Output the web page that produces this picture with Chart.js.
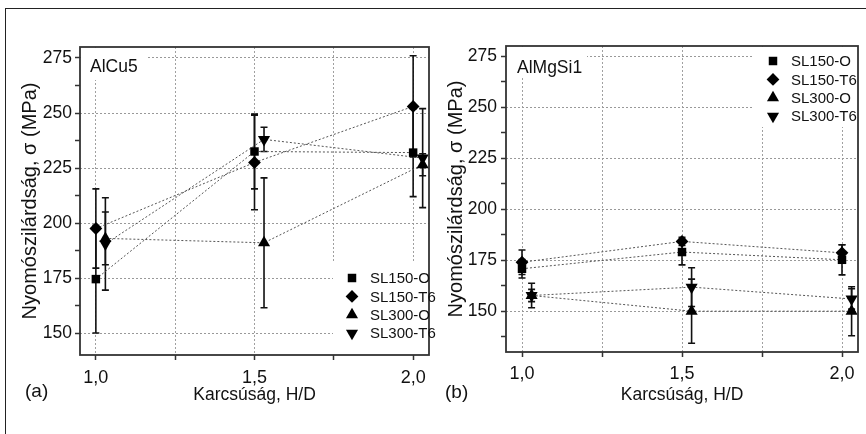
<!DOCTYPE html>
<html>
<head>
<meta charset="utf-8">
<script src="https://cdn.jsdelivr.net/npm/chart.js"></script>
<style>
  html, body { margin: 0; padding: 0; background: #fff; overflow: hidden; }
  #wrap { position: relative; width: 866px; height: 434px; overflow: hidden; }
  #frame { position: absolute; left: 5px; top: 8px; width: 900px; height: 500px; border: 1.5px solid #222; }
  #cu { position: absolute; left: 0; top: 0; }
  #mg { position: absolute; left: 436px; top: 0; }
</style>
</head>
<body>
<div id="wrap">
  <div id="frame"></div>
  <canvas id="cu" width="436" height="434"></canvas>
  <canvas id="mg" width="430" height="434"></canvas>
</div>
<script>
// x positions (H/D); the SL300 series are plotted slightly shifted right
const hdMain = [1.0, 1.5, 2.0];
const hdShift = [1.03, 1.53, 2.03];
const seriesNames = ['SL150-O', 'SL150-T6', 'SL300-O', 'SL300-T6'];

const xTickValues = [1.0, 1.25, 1.5, 1.75, 2.0];
const xTickLabels = ['1,0', '', '1,5', '', '2,0'];
const yTickValues = [137.5, 150, 162.5, 175, 187.5, 200, 212.5, 225, 237.5, 250, 262.5, 275];
const yTickLabels = ['', '150', '', '175', '', '200', '', '225', '', '250', '', '275'];

// (a) AlCu5 - compressive strength, MPa
const cuSL150O = [174.5, 232.5, 232];
const cuSL150T6 = [197.5, 227.5, 253];
const cuSL300O = [193, 191, 226.5];
const cuSL300T6 = [190.5, 238, 229.5];
const cuSL150OErr = [24.5, 17, 20];
const cuSL150T6Err = [18, 21.5, 23];
const cuSL300OErr = [12, 29.5, 5];
const cuSL300T6Err = [21, 5.5, 22.5];

// (b) AlMgSi1
const mgSL150O = [170.8, 179, 175.2];
const mgSL150T6 = [174, 184.2, 178.6];
const mgSL300O = [157.7, 150, 150];
const mgSL300T6 = [157.7, 161.8, 156];
const mgSL150OErr = [4.5, 6.3, 7.4];
const mgSL150T6Err = [6, 2, 4];
const mgSL300OErr = [6, 15.7, 12];
const mgSL300T6Err = [3, 9.5, 5];

const FONT = "'Liberation Sans', Arial, sans-serif";
const NARROW = "'Liberation Sans Narrow', 'Liberation Sans', Arial, sans-serif";
const INK = '#111';

const markers = [
  { pointStyle: 'rect', rotation: 0, radius: 6 },
  { pointStyle: 'rectRot', rotation: 0, radius: 6.4 },
  { pointStyle: 'triangle', rotation: 0, radius: 7 },
  { pointStyle: 'triangle', rotation: 180, radius: 7 }
];

// draws label boxes, error bars, frame, in-plot legend and panel letter
const panelDecor = {
  id: 'panelDecor',
  beforeDatasetsDraw(chart, args, o) {
    const { ctx, chartArea: ca } = chart;
    const y = chart.scales.y;
    ctx.save();
    ctx.fillStyle = '#fff';
    o.covers.forEach(c => ctx.fillRect(ca.left + c[0], ca.top + c[1], c[2], c[3]));

    ctx.strokeStyle = '#111';
    ctx.lineWidth = 1.6;
    chart.data.datasets.forEach((ds, i) => {
      chart.getDatasetMeta(i).data.forEach((pt, j) => {
        const v = ds.data[j].y, e = ds.err[j];
        const top = y.getPixelForValue(v + e);
        const bot = y.getPixelForValue(v - e);
        ctx.beginPath();
        ctx.moveTo(pt.x, top); ctx.lineTo(pt.x, bot);
        ctx.moveTo(pt.x - 3.5, top); ctx.lineTo(pt.x + 3.5, top);
        ctx.moveTo(pt.x - 3.5, bot); ctx.lineTo(pt.x + 3.5, bot);
        ctx.stroke();
      });
    });
    ctx.restore();
  },
  afterDatasetsDraw(chart, args, o) {
    const { ctx, chartArea: ca } = chart;
    ctx.save();
    ctx.strokeStyle = '#333';
    ctx.lineWidth = 1.8;
    ctx.strokeRect(ca.left, ca.top, ca.right - ca.left, ca.bottom - ca.top);

    ctx.fillStyle = INK;
    ctx.textBaseline = 'middle';
    ctx.font = '17.5px ' + FONT;
    ctx.fillText(o.name, ca.left + o.nameAt[0], ca.top + o.nameAt[1]);
    ctx.font = '19px ' + FONT;
    ctx.fillText(o.letter, o.letterAt[0], o.letterAt[1]);

    ctx.font = '15px ' + NARROW;
    chart.data.datasets.forEach((ds, i) => {
      const mx = ca.left + o.legendAt[0];
      const my = ca.top + o.legendAt[1] + i * 18.4;
      ctx.fillStyle = '#000';
      Chart.helpers.drawPoint(ctx, Object.assign({ borderWidth: 0 }, markers[i]), mx, my);
      ctx.fillStyle = INK;
      ctx.fillText(ds.label, mx + 18, my + 1);
    });
    ctx.restore();
  }
};

function buildChart(id, p) {
  const datasets = seriesNames.map((name, i) => ({
    label: name,
    data: p.values[i].map((v, j) => ({ x: (i < 2 ? hdMain : hdShift)[j], y: v })),
    err: p.errors[i],
    borderColor: '#555',
    borderWidth: 1,
    borderDash: [2, 2],
    pointStyle: markers[i].pointStyle,
    pointRotation: markers[i].rotation,
    pointRadius: markers[i].radius,
    pointBackgroundColor: '#000',
    pointBorderColor: '#000',
    pointBorderWidth: 0,
    clip: false
  }));

  return new Chart(document.getElementById(id), {
    type: 'line',
    data: { datasets },
    plugins: [panelDecor],
    options: {
      responsive: false,
      animation: false,
      events: [],
      layout: { padding: p.pad },
      plugins: {
        legend: { display: false },
        tooltip: { enabled: false },
        panelDecor: p.decor
      },
      scales: {
        x: {
          type: 'linear',
          min: 0.95,
          max: 2.05,
          afterBuildTicks: s => { s.ticks = xTickValues.map(v => ({ value: v })); },
          afterFit: s => { s.height = p.xHeight; },
          ticks: {
            autoSkip: false,
            maxRotation: 0,
            padding: p.xTickPad,
            color: INK,
            font: { family: FONT, size: 18 },
            callback: (v, i) => xTickLabels[i]
          },
          grid: { color: '#a0a0a0', lineWidth: 1, tickLength: 5, tickColor: '#333', tickWidth: 1.5 },
          border: { display: false, dash: [2, 2] },
          title: {
            display: true,
            text: 'Karcsúság, H/D',
            color: INK,
            font: { family: FONT, size: 17.5 },
            padding: { top: 0, bottom: p.xTitlePad }
          }
        },
        y: {
          min: p.yMin,
          max: 280,
          afterBuildTicks: s => { s.ticks = yTickValues.filter(v => v >= p.yMin).map(v => ({ value: v })); },
          afterFit: s => { s.width = p.yWidth; },
          ticks: {
            autoSkip: false,
            padding: p.yTickPad,
            color: INK,
            font: { family: FONT, size: 17.5 },
            callback: v => yTickLabels[yTickValues.indexOf(v)]
          },
          grid: {
            color: ctx => (ctx.tick && ctx.tick.value % 25 === 0) ? '#999' : 'rgba(0,0,0,0)',
            lineWidth: 1,
            tickLength: 5,
            tickColor: '#333',
            tickWidth: 1.5
          },
          border: { display: false, dash: [2, 2] },
          title: {
            display: true,
            text: 'Nyomószilárdság, σ (MPa)',
            color: INK,
            font: { family: FONT, size: 20 },
            padding: { top: p.yTitlePad, bottom: 0 }
          }
        }
      }
    }
  });
}

buildChart('cu', {
  values: [cuSL150O, cuSL150T6, cuSL300O, cuSL300T6],
  errors: [cuSL150OErr, cuSL150T6Err, cuSL300OErr, cuSL300T6Err],
  yMin: 140,
  pad: { left: 0, right: 2, top: 47, bottom: 0 },
  yWidth: 80, xHeight: 79,
  yTitlePad: 18, yTickPad: 3, xTickPad: 7, xTitlePad: 28,
  decor: {
    name: 'AlCu5', nameAt: [10, 20],
    letter: '(a)', letterAt: [25, 392],
    legendAt: [272, 231],
    covers: [[1, 1, 66, 32], [253, 216, 101, 91]]
  }
});

buildChart('mg', {
  values: [mgSL150O, mgSL150T6, mgSL300O, mgSL300T6],
  errors: [mgSL150OErr, mgSL150T6Err, mgSL300OErr, mgSL300T6Err],
  yMin: 130,
  pad: { left: 0, right: 8, top: 46, bottom: 0 },
  yWidth: 70, xHeight: 82,
  yTitlePad: 8, yTickPad: 4, xTickPad: 6, xTitlePad: 28,
  decor: {
    name: 'AlMgSi1', nameAt: [11, 22],
    letter: '(b)', letterAt: [9, 393],
    legendAt: [267, 15],
    covers: [[1, 1, 80, 30], [247, 1, 104, 80]]
  }
});
</script>
</body>
</html>
